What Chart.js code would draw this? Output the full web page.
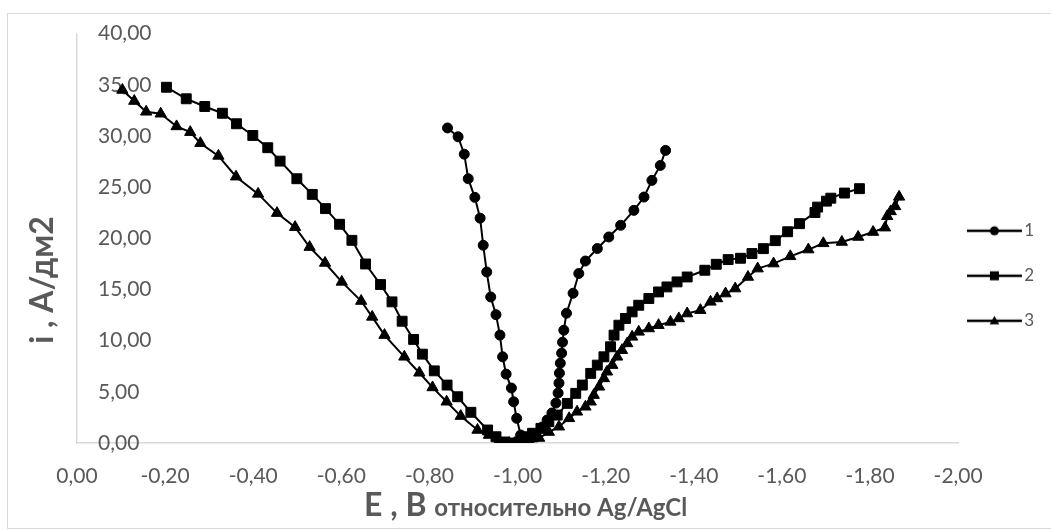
<!DOCTYPE html>
<html>
<head>
<meta charset="utf-8">
<script src="https://cdn.jsdelivr.net/npm/chart.js@4.4.1/dist/chart.umd.min.js"></script>
<style>
  html, body { margin: 0; padding: 0; background: #fff; }
  #wrap { width: 1051px; height: 530px; position: relative; }
</style>
</head>
<body>
<div id="wrap"><canvas id="chart" width="1051" height="530"></canvas></div>
<script>
// series labels
var seriesNames = ['1', '2', '3'];

// curve 1 (circles): E, V vs Ag/AgCl and i, A/dm2
var e1 = [-0.841,-0.865,-0.879,-0.888,-0.903,-0.915,-0.922,-0.930,-0.939,-0.951,-0.960,-0.966,-0.974,-0.986,-0.991,-0.998,-1.007,-1.015,
  -1.026,-1.042,-1.056,-1.067,-1.078,-1.087,-1.092,-1.094,-1.095,-1.097,-1.100,-1.102,-1.105,-1.111,-1.126,-1.139,-1.154,-1.181,-1.207,-1.234,-1.264,-1.287,-1.305,-1.324,-1.336];
var i1 = [30.78,29.92,28.22,25.82,24.00,21.97,19.32,16.71,14.27,12.54,10.54,8.42,6.73,5.37,4.03,2.41,0.78,0.10,
  0.20,0.59,1.56,2.24,2.93,3.90,4.88,5.85,6.83,7.80,8.78,9.85,11.02,12.68,14.63,16.56,17.78,19.00,20.13,21.27,22.73,24.03,25.66,27.12,28.59];

// curve 2 (squares)
var e2 = [-0.203,-0.248,-0.290,-0.330,-0.362,-0.399,-0.433,-0.461,-0.499,-0.534,-0.564,-0.596,-0.624,-0.655,-0.689,-0.715,-0.738,-0.764,-0.784,-0.811,-0.840,-0.864,-0.894,-0.932,-0.951,-0.969,-0.985,-1.003,
  -1.011,-1.034,-1.053,-1.071,-1.090,-1.113,-1.132,-1.147,-1.166,-1.181,-1.196,-1.211,-1.219,-1.230,-1.245,-1.260,-1.275,-1.298,-1.320,-1.339,-1.362,-1.385,-1.425,-1.451,-1.478,-1.506,-1.532,-1.558,-1.585,-1.613,-1.640,-1.675,-1.681,-1.701,-1.711,-1.742,-1.776];
var i2 = [34.76,33.63,32.88,32.22,31.19,30.05,28.85,27.54,25.82,24.29,22.90,21.37,19.80,17.49,15.48,13.79,11.90,10.12,8.68,7.05,5.66,4.52,3.00,1.27,0.61,0.10,0.00,0.10,
  0.61,0.95,1.43,2.08,2.73,3.87,4.85,5.66,6.80,7.61,8.42,9.40,10.54,11.51,12.17,12.81,13.46,14.12,14.76,15.25,15.74,16.22,16.88,17.46,17.92,18.05,18.51,18.99,19.77,20.64,21.43,22.52,23.05,23.63,23.92,24.42,24.85];

// curve 3 (triangles)
var e3 = [-0.103,-0.130,-0.157,-0.190,-0.226,-0.257,-0.280,-0.321,-0.361,-0.411,-0.454,-0.495,-0.528,-0.563,-0.601,-0.645,-0.670,-0.698,-0.743,-0.777,-0.807,-0.839,-0.871,-0.909,-0.935,-0.958,-0.981,-1.003,
  -1.026,-1.049,-1.071,-1.094,-1.117,-1.135,-1.154,-1.166,-1.173,-1.185,-1.196,-1.203,-1.215,-1.226,-1.237,-1.249,-1.260,-1.275,-1.298,-1.320,-1.347,-1.366,-1.385,-1.415,-1.438,-1.453,-1.472,-1.494,-1.523,-1.545,-1.581,-1.619,-1.660,-1.694,-1.736,-1.773,-1.807,-1.834,-1.839,-1.847,-1.857,-1.866];
var i3 = [34.49,33.41,32.36,32.17,30.93,30.37,29.29,28.05,26.02,24.34,22.46,21.09,19.14,17.59,15.74,13.87,12.32,10.54,8.42,6.86,5.43,4.03,2.63,1.27,0.78,0.20,0.00,0.00,
  0.20,0.49,1.07,1.59,2.41,3.05,3.54,4.03,4.68,5.49,6.31,6.96,7.61,8.42,9.07,9.73,10.37,10.86,11.19,11.51,11.83,12.17,12.65,12.98,13.79,14.12,14.60,15.09,16.22,17.04,17.53,18.24,18.90,19.51,19.64,20.13,20.61,21.04,22.15,22.63,23.12,24.05];

// axis range
var xMin = -2, xMax = 0, xStep = 0.2;
var yMin = 0, yMax = 40, yStep = 5;

var yTitle = 'i , А/дм2';
var xTitleBig = 'Е , В';
var xTitleSmall = 'относительно Ag/AgCl';

var FONT = 'Lato, "Open Sans", sans-serif';
var GREY = '#595959';

function pts(xs, ys) {
  return xs.map(function (x, k) { return { x: x, y: ys[k] }; });
}

function comma(v) {
  return Number(v).toFixed(2).replace('.', ',');
}

// legend icon: line with the marker in the middle, right part left empty
function legendIcon(style) {
  var c = document.createElement('canvas');
  c.width = 68; c.height = 14;
  var g = c.getContext('2d');
  g.strokeStyle = '#000'; g.fillStyle = '#000';
  g.lineWidth = 2.5;
  g.beginPath(); g.moveTo(0, 7); g.lineTo(55, 7); g.stroke();
  var cx = 27.5, cy = 7;
  g.beginPath();
  if (style === 'circle') {
    g.arc(cx, cy, 4.5, 0, Math.PI * 2);
  } else if (style === 'rect') {
    g.rect(cx - 4.5, cy - 4.5, 9, 9);
  } else {
    g.moveTo(cx, cy - 5); g.lineTo(cx + 4.8, cy + 3.5); g.lineTo(cx - 4.8, cy + 3.5); g.closePath();
  }
  g.fill();
  return c;
}

var styles = ['circle', 'rect', 'triangle'];
var radii = [5, 7, 6.5];
var icons = styles.map(legendIcon);

var frame = {
  id: 'frame',
  beforeDraw: function (chart) {
    var ctx = chart.ctx;
    ctx.save();
    ctx.strokeStyle = '#d9d9d9';
    ctx.lineWidth = 1;
    ctx.strokeRect(7.5, 13.5, 1060, 515);
    ctx.restore();
  },
  afterDraw: function (chart) {
    var ctx = chart.ctx, a = chart.chartArea;
    ctx.save();
    ctx.fillStyle = GREY;
    ctx.textBaseline = 'alphabetic';
    // x title, two font sizes
    var big = 'bold 32px ' + FONT, small = 'bold 24px ' + FONT;
    ctx.font = big;
    var w1 = ctx.measureText(xTitleBig + ' ').width;
    ctx.font = small;
    var w2 = ctx.measureText(xTitleSmall).width;
    var x0 = (a.left + a.right) / 2 + 8 - (w1 + w2) / 2;
    ctx.font = big;
    ctx.textAlign = 'left';
    ctx.fillText(xTitleBig, x0, 516);
    ctx.font = small;
    ctx.fillText(xTitleSmall, x0 + w1, 516);
    // y title, rotated
    ctx.translate(53, 280);
    ctx.rotate(-Math.PI / 2);
    ctx.font = 'bold 32px ' + FONT;
    ctx.textAlign = 'center';
    ctx.fillText(yTitle, 0, 0);
    ctx.restore();
  }
};

function build() {
  var data = [pts(e1, i1), pts(e2, i2), pts(e3, i3)];
  var datasets = data.map(function (d, k) {
    return {
      label: seriesNames[k],
      data: d,
      borderColor: '#000',
      backgroundColor: '#000',
      borderWidth: 2,
      pointStyle: styles[k],
      pointRadius: radii[k],
      pointBackgroundColor: '#000',
      pointBorderColor: '#000',
      pointBorderWidth: 1,
      tension: 0
    };
  });

  new Chart(document.getElementById('chart'), {
    type: 'line',
    data: { datasets: datasets },
    plugins: [frame],
    options: {
      responsive: false,
      animation: false,
      events: [],
      layout: { padding: { left: 35, right: 7, top: 32.4, bottom: 19.8 } },
      plugins: {
        tooltip: { enabled: false },
        legend: {
          position: 'right',
          align: 'center',
          title: { display: true, text: '', font: { size: 7.5 }, padding: 0 },
          labels: {
            usePointStyle: true,
            pointStyleWidth: 29.5,
            padding: 28,
            color: GREY,
            font: { family: FONT, size: 17 },
            generateLabels: function (chart) {
              var items = Chart.defaults.plugins.legend.labels.generateLabels(chart);
              items.forEach(function (it, k) { it.pointStyle = icons[k]; it.fontColor = GREY; });
              return items;
            }
          }
        }
      },
      scales: {
        x: {
          type: 'linear',
          min: xMin, max: xMax,
          reverse: true,
          grid: { display: false, drawTicks: false },
          border: { display: true, color: '#d9d9d9', width: 1.5 },
          ticks: {
            stepSize: xStep,
            padding: 21,
            color: GREY,
            font: { family: FONT, size: 21 },
            callback: function (v) { return comma(v); }
          }
        },
        y: {
          min: yMin, max: yMax,
          grid: { display: false, drawTicks: false },
          border: { display: true, color: '#d9d9d9', width: 1.5 },
          ticks: {
            stepSize: yStep,
            mirror: true,
            padding: 21,
            color: GREY,
            font: { family: FONT, size: 21 },
            callback: function (v) { return comma(v); }
          }
        }
      }
    }
  });
}

if (document.fonts && document.fonts.load) {
  Promise.all([document.fonts.load('21px Lato'), document.fonts.load('bold 30px Lato')])
    .then(build, build);
} else {
  build();
}
</script>
</body>
</html>
